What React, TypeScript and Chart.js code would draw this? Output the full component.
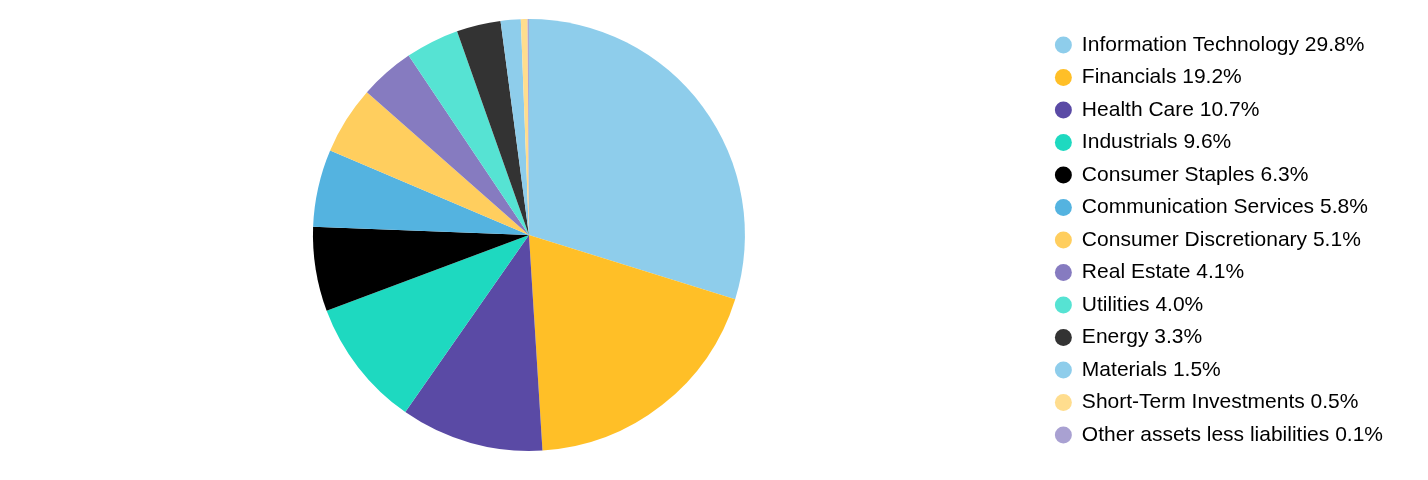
import { useEffect, useRef } from "react";
import Chart from "chart.js/auto";

const sectors = [
  "Information Technology",
  "Financials",
  "Health Care",
  "Industrials",
  "Consumer Staples",
  "Communication Services",
  "Consumer Discretionary",
  "Real Estate",
  "Utilities",
  "Energy",
  "Materials",
  "Short-Term Investments",
  "Other assets less liabilities",
];

const weights = [29.8, 19.2, 10.7, 9.6, 6.3, 5.8, 5.1, 4.1, 4.0, 3.3, 1.5, 0.5, 0.1];

const colors = [
  "#8ECDEB",
  "#FFBF27",
  "#5A4AA5",
  "#1ED9C0",
  "#000000",
  "#54B3E0",
  "#FFCE5E",
  "#867BC0",
  "#56E3D3",
  "#333333",
  "#8ECDEB",
  "#FFDD8E",
  "#A9A1D2",
];

export default function App() {
  const chartRef = useRef<HTMLCanvasElement>(null);
  const chartInstance = useRef<Chart | null>(null);

  useEffect(() => {
    if (!chartRef.current) return;
    if (chartInstance.current) {
      chartInstance.current.destroy();
    }
    const ctx = chartRef.current.getContext("2d");
    if (!ctx) return;

    chartInstance.current = new Chart(ctx, {
      type: "pie",
      data: {
        labels: sectors.map((s, i) => `${s} ${weights[i].toFixed(1)}%`),
        datasets: [
          {
            data: weights,
            backgroundColor: colors,
            borderWidth: 0,
            radius: 216,
          },
        ],
      },
      options: {
        responsive: true,
        maintainAspectRatio: false,
        animation: false,
        layout: {
          padding: { top: 0, bottom: 18, left: 6, right: 27 },
        },
        plugins: {
          legend: {
            position: "right",
            // empty title only nudges the items down a little
            title: {
              display: true,
              text: "",
              font: { size: 1 },
              padding: { top: 8.8, bottom: 0 },
            },
            labels: {
              usePointStyle: true,
              pointStyle: "circle",
              boxWidth: 16,
              boxHeight: 12,
              padding: 11.5,
              color: "#000000",
              font: {
                family: "'Liberation Sans', Arial, sans-serif",
                size: 21,
              },
            },
          },
          tooltip: { enabled: false },
        },
      },
    });

    return () => {
      if (chartInstance.current) {
        chartInstance.current.destroy();
        chartInstance.current = null;
      }
    };
  }, []);

  return (
    <div style={{ width: "100%", height: 472, position: "relative" }}>
      <canvas ref={chartRef}></canvas>
    </div>
  );
}
